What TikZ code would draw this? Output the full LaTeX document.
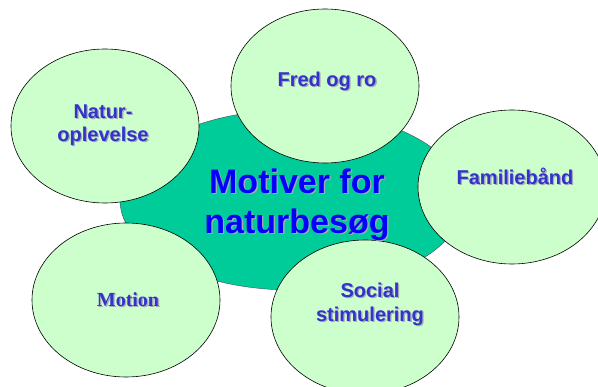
\documentclass[tikz,border=0pt]{standalone}
\usepackage{fontspec}
\setmainfont{Liberation Sans}
\newfontfamily\romanfont{Liberation Serif}
\usetikzlibrary{shapes.geometric}

\definecolor{hubgreen}{HTML}{00CC99}
\definecolor{bubblegreen}{HTML}{CCFFCC}
\definecolor{labelblue}{HTML}{3333CC}
\definecolor{titleblue}{HTML}{0000FF}
\definecolor{shadowgrey}{HTML}{A8A8B8}

% text with a small grey shadow behind it
\newcommand{\shadowed}[1]{\makebox[0pt][l]{\hspace{1.3pt}\raisebox{-1.3pt}{\textcolor{shadowgrey}{#1}}}#1}

\tikzset{
  hub/.style={ellipse, draw=black!70, line width=0.4pt, fill=hubgreen, minimum width=344pt, minimum height=180pt, inner sep=0pt},
  bubble/.style={ellipse, draw=black, line width=0.6pt, fill=bubblegreen, minimum width=188pt, minimum height=154pt, inner sep=0pt},
  motive/.style={text=labelblue, font=\bfseries\fontsize{20}{23}\selectfont, align=center, inner sep=0pt},
  hubtext/.style={text=titleblue, font=\bfseries\fontsize{34}{40}\selectfont, align=center, inner sep=0pt}
}

\begin{document}
\begin{tikzpicture}[x=1pt,y=-1pt]
        \useasboundingbox (0,0) rectangle (598,387);
        \clip (0,0) rectangle (598,387);
        % centre
        \node[hub] (hub) at (292,200) {};
        % the five motives
        \node[bubble] (natur) at (105,126) {};
        \node[bubble] (fred) at (325,86) {};
        \node[bubble] (familie) at (512,187) {};
        \node[bubble] (motion) at (126,300) {};
        \node[bubble] (social) at (365,317) {};
        \node[motive] (naturtxt) at (103,126) {\shadowed{Natur-}\\\shadowed{oplevelse}};
        \node[motive] (fredtxt) at (327,82) {\shadowed{Fred og ro}};
        \node[motive] (familietxt) at (515,177) {\shadowed{Familiebånd}};
        \node[motive, font=\romanfont\bfseries\fontsize{20}{23}\selectfont] (motiontxt) at (128,300) {\shadowed{Motion}};
        \node[motive, font=\bfseries\fontsize{20}{24}\selectfont] (socialtxt) at (370,305) {\shadowed{Social}\\\shadowed{stimulering}};
        \node[hubtext] (hubtxt) at (297,205) {\shadowed{Motiver for}\\\shadowed{naturbesøg}};
\end{tikzpicture}
\end{document}
